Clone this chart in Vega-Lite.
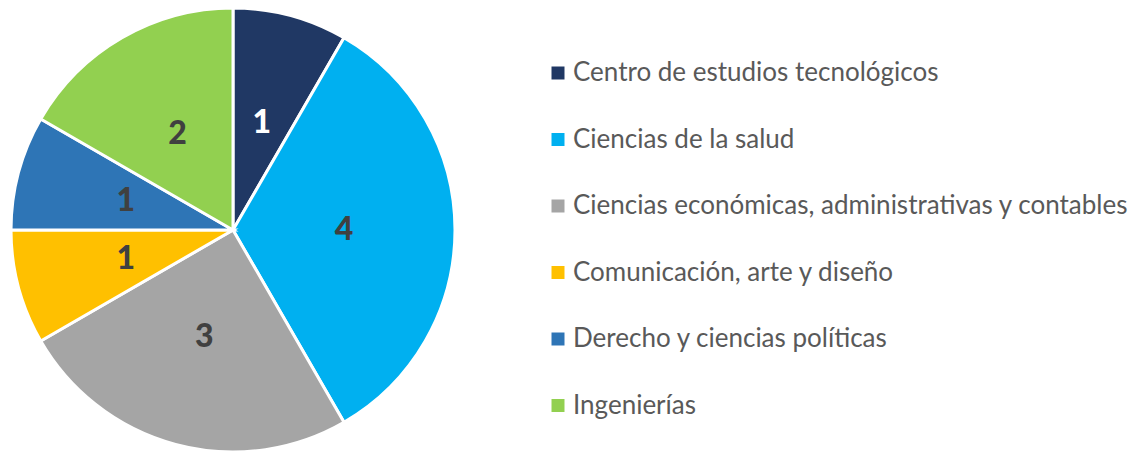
{
  "$schema": "https://vega.github.io/schema/vega-lite/v6.json",
  "width": 466,
  "height": 444,
  "autosize": {"type": "none"},
  "padding": {"left": 0, "top": 8, "right": 668, "bottom": 0},
  "background": "white",
  "data": {
    "values": [
      {"idx": 1, "area": "Centro de estudios tecnológicos", "n": 1},
      {"idx": 2, "area": "Ciencias de la salud", "n": 4},
      {"idx": 3, "area": "Ciencias económicas, administrativas y contables", "n": 3},
      {"idx": 4, "area": "Comunicación, arte y diseño", "n": 1},
      {"idx": 5, "area": "Derecho y ciencias políticas", "n": 1},
      {"idx": 6, "area": "Ingenierías", "n": 2}
    ]
  },
  "encoding": {
    "theta": {"field": "n", "type": "quantitative", "stack": true},
    "order": {"field": "idx", "type": "quantitative"}
  },
  "layer": [
    {
      "mark": {"type": "arc", "stroke": "white", "strokeWidth": 3, "radius": 222},
      "encoding": {
        "color": {
          "field": "area",
          "type": "nominal",
          "sort": {"field": "idx"},
          "scale": {
            "domain": ["Centro de estudios tecnológicos", "Ciencias de la salud", "Ciencias económicas, administrativas y contables", "Comunicación, arte y diseño", "Derecho y ciencias políticas", "Ingenierías"],
            "range": ["#203864", "#00B0F0", "#A5A5A5", "#FFC000", "#2E75B6", "#92D050"]
          },
          "legend": {
            "title": null,
            "orient": "none",
            "legendX": 545,
            "legendY": 52,
            "symbolType": "square",
            "symbolSize": 169,
            "symbolStrokeWidth": 0,
            "labelFont": "Lato",
            "labelFontSize": 26,
            "labelColor": "#595959",
            "labelOffset": 2,
            "labelLimit": 700,
            "rowPadding": 40.5
          }
        }
      }
    },
    {
      "mark": {"type": "text", "radius": 111, "font": "Lato", "fontWeight": 900, "fontSize": 32, "baseline": "middle", "align": "center"},
      "encoding": {
        "text": {"field": "n", "type": "quantitative"},
        "color": {
          "condition": {"test": "datum.idx === 1", "value": "#FFFFFF"},
          "value": "#404040"
        }
      }
    }
  ]
}
